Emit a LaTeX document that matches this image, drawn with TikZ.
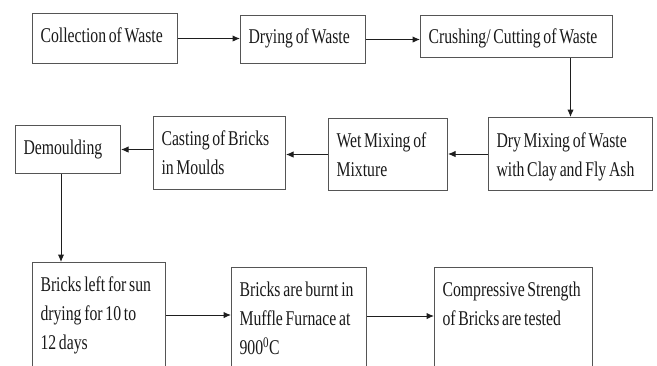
\documentclass[tikz,border=0pt]{standalone}
\usepackage{fontspec}
\setmainfont{Liberation Serif}[FakeStretch=0.75,WordSpace={0.7,0,0}]
\usetikzlibrary{arrows.meta}

\definecolor{boxline}{RGB}{85,85,85}
\definecolor{flowline}{RGB}{30,30,30}

\tikzset{
	stage/.style={draw=boxline, line width=1pt, rectangle, anchor=north west,
		align=flush left, inner xsep=8pt, inner ysep=0pt, text=black!90,
		font=\fontsize{21}{29}\selectfont},
	openstage/.style={stage, inner ysep=14.5pt, text depth=110pt},
	flow/.style={color=flowline, line width=1pt, -{Latex[length=7.5pt,width=6.5pt]}}
}

\begin{document}
\begin{tikzpicture}[x=1pt,y=-1pt]
		\useasboundingbox (0,0) rectangle (657,365);
		\clip (0,0) rectangle (657,365);
		% first row
		\node[stage, text width=129pt, minimum height=50pt, text depth=7pt] (collect) at (32,13) {Collection of Waste};
		\node[stage, text width=109pt, minimum height=48pt, text depth=7pt] (dry) at (240,15) {Drying of Waste};
		\node[stage, text width=176pt, minimum height=42pt, text depth=0pt] (crush) at (420,15) {Crushing/ Cutting of Waste};
		% second row
		\node[stage, text width=148pt, minimum height=73pt, text depth=27.5pt] (drymix) at (488,117) {Dry Mixing of Waste\\with Clay and Fly Ash};
		\node[stage, text width=103pt, minimum height=72pt] (wetmix) at (328,118) {Wet Mixing of\\Mixture};
		\node[stage, text width=116pt, minimum height=73pt] (cast) at (153,116) {Casting of Bricks\\in Moulds};
		\node[stage, text width=89pt, minimum height=48pt] (demould) at (15,125) {Demoulding};
		% third row
		\node[openstage, text width=117pt] (sun) at (32,262) {Bricks left for sun\\drying for 10 to\\12 days};
		\node[openstage, text width=119pt] (burn) at (231,267) {Bricks are burnt in\\Muffle Furnace at\\900\textsuperscript{0}C};
		\node[openstage, text width=142pt] (test) at (434,267) {Compressive Strength\\of Bricks are tested};
		\coordinate (drop) at ([xshift=46pt]demould.south west);
		\coordinate (sunout) at ([yshift=-53pt]sun.north east);
		\coordinate (burnout) at ([yshift=-49pt]burn.north east);
		\path[flow]
		(collect.east) edge (collect.east -| dry.west)
		(dry.east) edge (dry.east -| crush.west)
		(drymix.north |- crush.south) edge (drymix.north)
		(drymix.west) edge (drymix.west -| wetmix.east)
		(wetmix.west) edge (wetmix.west -| cast.east)
		(demould.east -| cast.west) edge (demould.east)
		(drop) edge (drop |- sun.north)
		(sunout) edge (sunout -| burn.west)
		(burnout) edge (burnout -| test.west);
	\end{tikzpicture}
\end{document}
